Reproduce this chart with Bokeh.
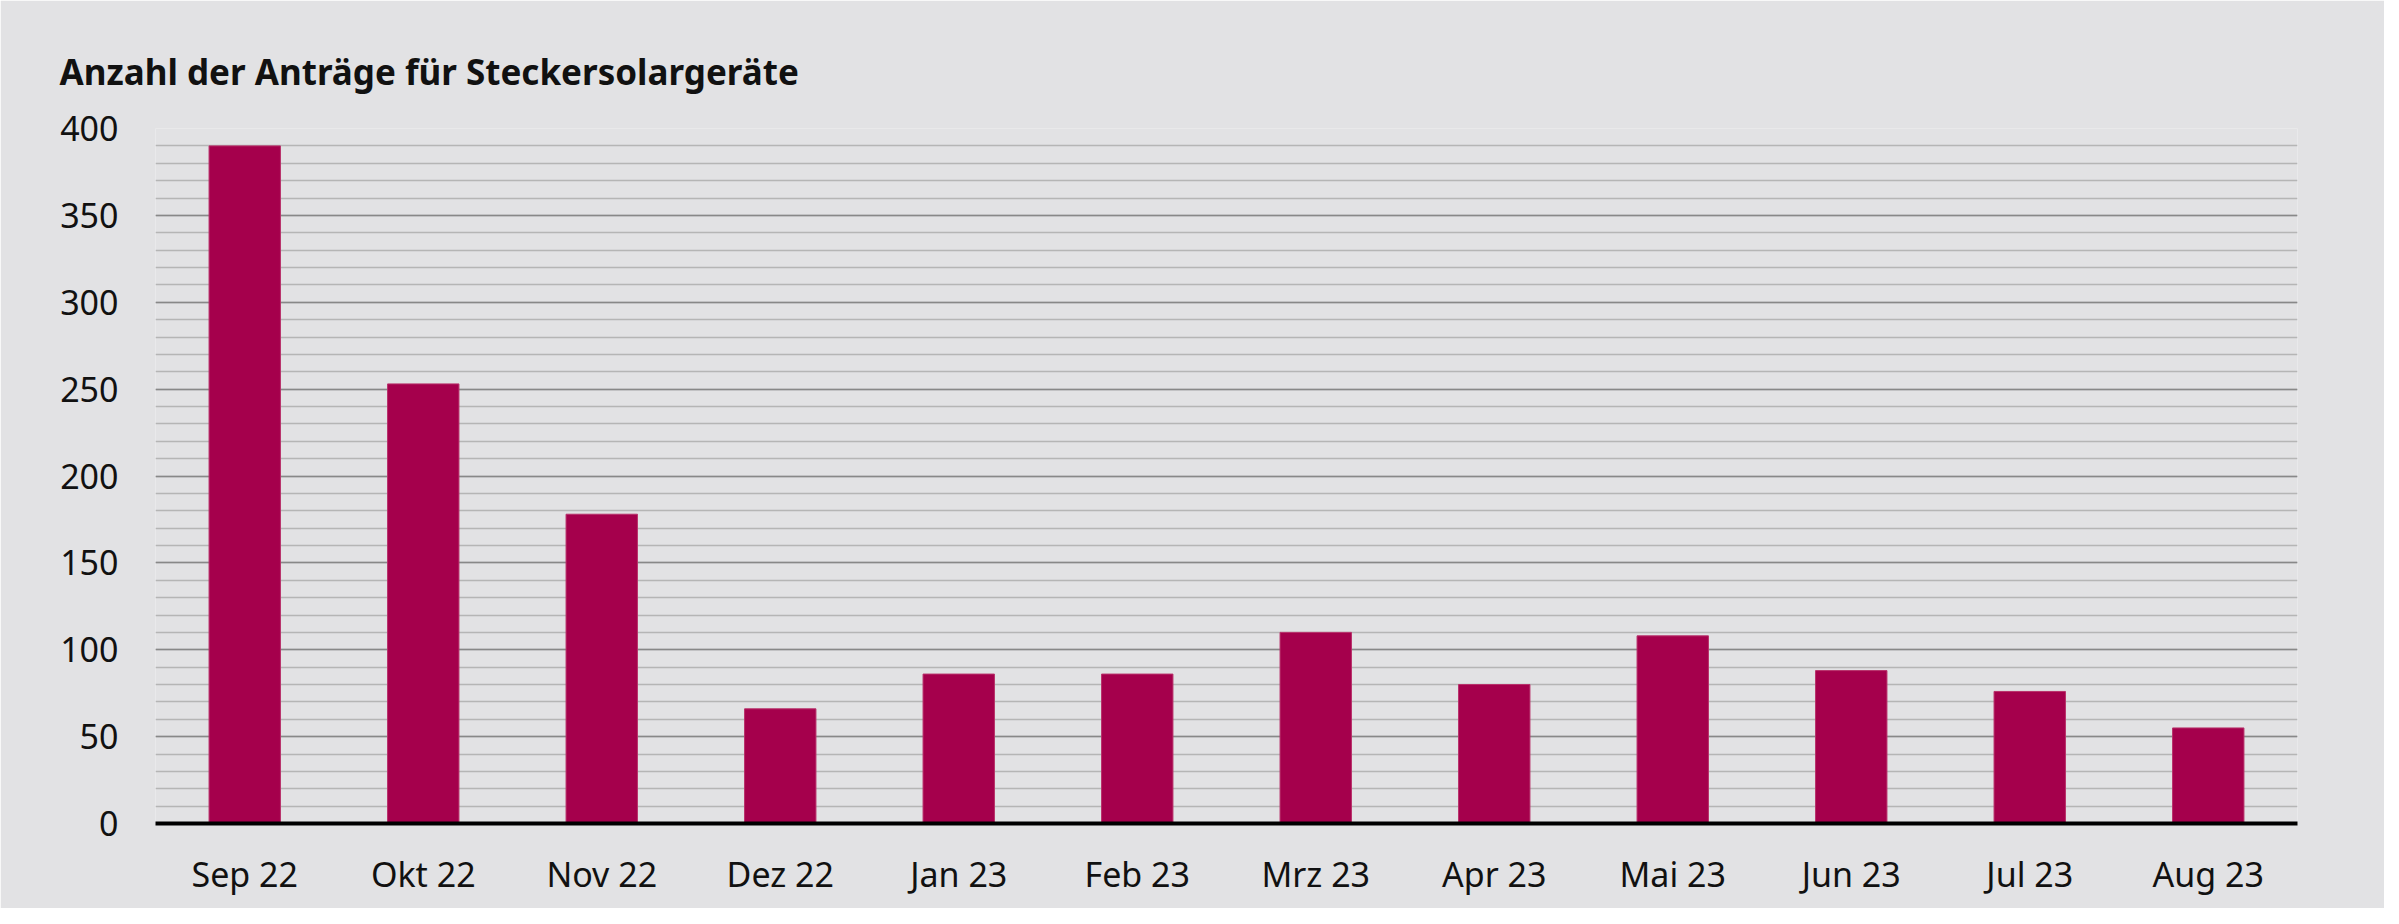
from bokeh.plotting import figure
from bokeh.models import Range1d, FactorRange, SingleIntervalTicker, Title
from bokeh.embed import file_html
from bokeh.resources import INLINE

months = ["Sep 22", "Okt 22", "Nov 22", "Dez 22", "Jan 23", "Feb 23",
          "Mrz 23", "Apr 23", "Mai 23", "Jun 23", "Jul 23", "Aug 23"]
antraege = [390, 253, 178, 66, 86, 86, 110, 80, 108, 88, 76, 55]
title_text = "Anzahl der Anträge für Steckersolargeräte"

BG = "#e2e2e4"
BAR = "#a5004c"
FONT = "Noto Sans"

p = figure(width=2384, height=908, output_backend="svg", toolbar_location=None,
           x_range=FactorRange(*months, range_padding=0),
           y_range=Range1d(0, 400),
           min_border_left=155, min_border_right=87,
           min_border_top=128, min_border_bottom=85)
p.background_fill_color = BG
p.border_fill_color = BG
p.outline_line_color = None

p.vbar(x=months, top=antraege, width=0.4, fill_color=BAR, line_color="#b8306a", line_width=1)

t = Title(text=title_text, align="left", text_font=FONT, text_font_size="35px",
          text_font_style="bold", text_color="#111111", offset=-96, standoff=67)
p.add_layout(t, "above")

p.yaxis.ticker = SingleIntervalTicker(interval=50, num_minor_ticks=5)
p.ygrid.ticker = p.yaxis.ticker
p.ygrid.grid_line_color = "#888888"
p.ygrid.grid_line_width = 1.6
p.ygrid.minor_grid_line_color = "#b5b5b5"
p.ygrid.minor_grid_line_width = 1.5
p.xgrid.grid_line_color = None

p.yaxis.axis_line_color = None
p.yaxis.major_tick_line_color = None
p.yaxis.minor_tick_line_color = None
p.yaxis.major_tick_out = 0
p.yaxis.minor_tick_out = 0
p.yaxis.major_label_standoff = 37
p.yaxis.major_label_text_font = FONT
p.yaxis.major_label_text_font_size = "34px"
p.yaxis.major_label_text_color = "#111111"

p.xaxis.axis_line_color = "#000000"
p.xaxis.axis_line_width = 4
p.xaxis.major_tick_line_color = None
p.xaxis.minor_tick_line_color = None
p.xaxis.major_tick_out = 0
p.xaxis.minor_tick_out = 0
p.xaxis.major_label_standoff = 27
p.xaxis.major_label_text_font = FONT
p.xaxis.major_label_text_font_size = "34px"
p.xaxis.major_label_text_color = "#111111"

open("out.html", "w").write(file_html(p, INLINE))
